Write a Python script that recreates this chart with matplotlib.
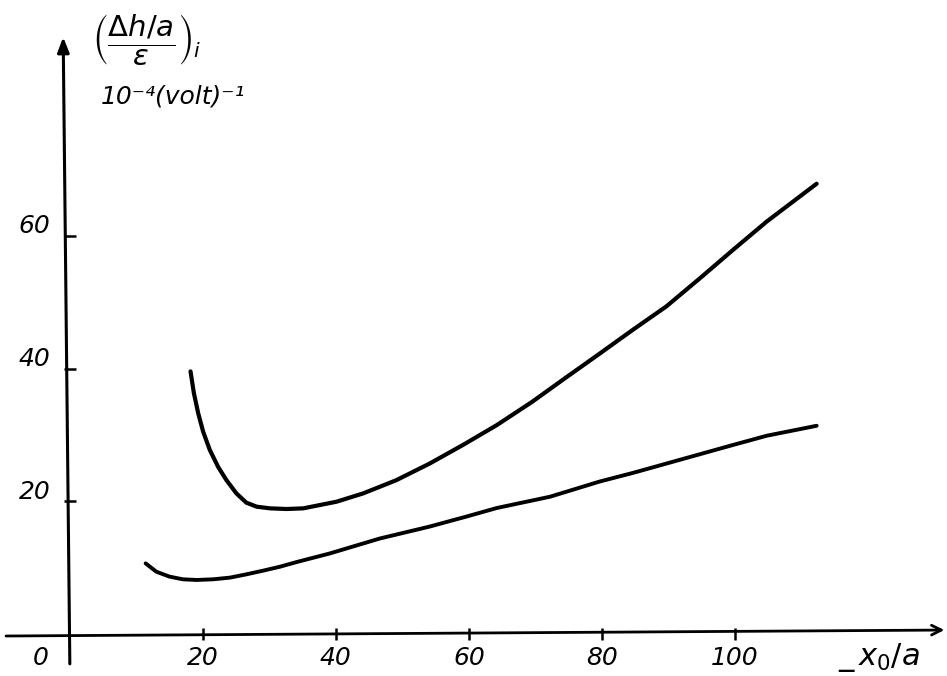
import matplotlib
matplotlib.use('Agg')
import matplotlib.pyplot as plt

# Upper curve
upper_x = [18.15, 18.65, 19.3, 20.05, 21.05, 22.3, 23.55, 25.05, 26.55, 28.1,
           30.1, 32.6, 35.1, 37.6, 40.1, 44.1, 49.1, 54.1, 59.1, 64.2, 69.5,
           74.5, 79.7, 84.7, 89.7, 94.7, 99.7, 104.8, 109.8, 112.3]
upper_y = [39.6, 36.35, 33.3, 30.5, 27.75, 25.2, 23.2, 21.2, 19.8, 19.2,
           18.95, 18.85, 18.95, 19.45, 19.95, 21.2, 23.2, 25.7, 28.5, 31.5, 35.0,
           38.6, 42.3, 45.9, 49.4, 53.6, 57.9, 62.2, 66.0, 67.9]

# Lower curve
lower_x = [11.4, 13.0, 15.0, 17.0, 19.05, 21.55, 24.05, 26.55, 29.05, 31.6,
           34.1, 36.6, 39.1, 46.6, 54.1, 59.6, 64.2, 72.2, 79.7, 84.7, 89.7,
           94.7, 99.7, 104.8, 112.3]
lower_y = [10.65, 9.4, 8.65, 8.25, 8.15, 8.25, 8.5, 9.0, 9.55, 10.15,
           10.85, 11.5, 12.15, 14.4, 16.2, 17.7, 19.0, 20.7, 23.0, 24.3, 25.7,
           27.1, 28.5, 29.9, 31.4]

x_ticks = [20, 40, 60, 80, 100]
y_ticks = [20, 40, 60]

plt.rcParams['mathtext.fontset'] = 'dejavusans'

fig = plt.figure(figsize=(9.47, 6.76), dpi=100)
ax = fig.add_axes([0, 0, 1, 1])
ax.set_xlim(-10.5, 131.9)
ax.set_ylim(-6.33, 95.6)
ax.axis('off')

# hand drawn axes with arrows
ax.annotate('', xy=(-1.0, 90.0), xytext=(0, -4.5),
            arrowprops=dict(arrowstyle='-|>,head_length=0.9,head_width=0.35',
                            color='black', lw=2.2, shrinkA=0, shrinkB=0))
ax.annotate('', xy=(131.5, 0.6), xytext=(-9.6, -0.3),
            arrowprops=dict(arrowstyle='->,head_length=0.7,head_width=0.35',
                            color='black', lw=2.0, shrinkA=0, shrinkB=0))

# tick marks
ax.plot(x_ticks, [0] * len(x_ticks), '|', color='black', markersize=9, mew=1.8)
ax.plot([0] * len(y_ticks), y_ticks, '_', color='black', markersize=9, mew=1.8)

# curves
ax.plot(upper_x, upper_y, color='black', lw=3.0, solid_capstyle='round',
        solid_joinstyle='round')
ax.plot(lower_x, lower_y, color='black', lw=2.8, solid_capstyle='round',
        solid_joinstyle='round')

# tick labels
for t in x_ticks:
    ax.annotate(str(t), xy=(t, 0), xytext=(0, -17), textcoords='offset points',
                ha='center', va='center', fontsize=18, style='italic')
for t in y_ticks:
    ax.annotate(str(t), xy=(0, t), xytext=(-14, 7), textcoords='offset points',
                ha='right', va='center', fontsize=18, style='italic')
ax.annotate('0', xy=(0, 0), xytext=(-21, -17), textcoords='offset points',
            ha='center', va='center', fontsize=18, style='italic')

# axis labels
ax.annotate(r'$\_\,x_0/a$', xy=(131, 0), xytext=(-45, -17),
            textcoords='offset points', ha='center', va='center', fontsize=22)
fig.text(0.097, 0.94, r'$\left(\dfrac{\Delta h/a}{\varepsilon}\right)_i$',
         ha='left', va='center', fontsize=21)
fig.text(0.106, 0.857, '10\u207b\u2074(volt)\u207b\u00b9',
         ha='left', va='center', fontsize=18, style='italic')

plt.savefig('out.png', dpi=100, facecolor='white')
plt.close()
